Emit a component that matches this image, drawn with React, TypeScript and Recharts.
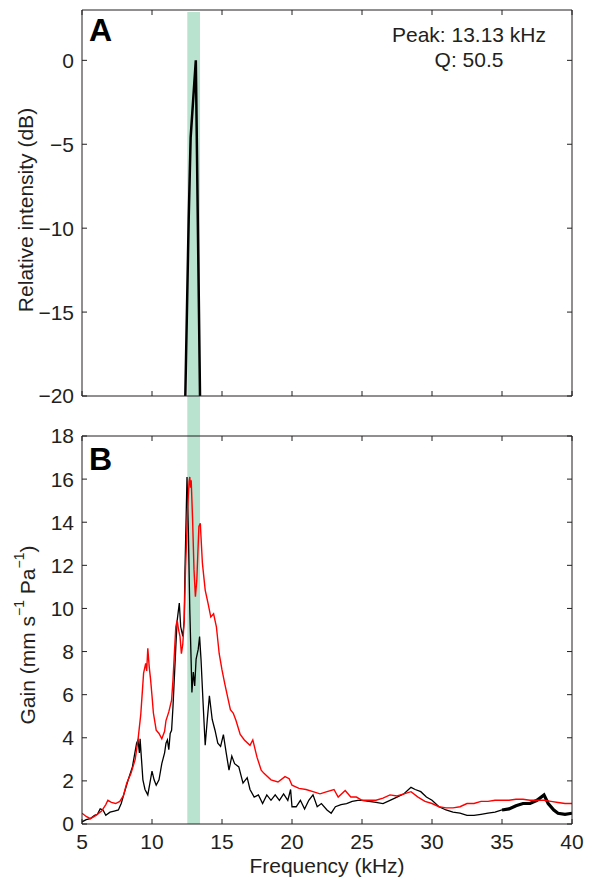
import React from 'react';
import { LineChart, Line, XAxis, YAxis, ReferenceArea } from 'recharts';

// axis ticks
const freqTicks = [5, 10, 15, 20, 25, 30, 35, 40];
const dbTicks = [-20, -15, -10, -5, 0];
const gainTicks = [0, 2, 4, 6, 8, 10, 12, 14, 16, 18];

// highlighted band (kHz)
const bandStart = 12.52;
const bandEnd = 13.43;

// panel A: relative intensity of the call
const peakFreq = [12.38, 12.62, 12.76, 13.13, 13.43];
const peakDb = [-20, -9.5, -4.6, 0, -20];

// panel B: red trace
const redFreq = [
  5.0, 5.3, 5.6, 6.0, 6.4, 6.7, 6.85, 7.1, 7.4, 7.7, 7.95, 8.2, 8.5, 8.8, 9.0, 9.2, 9.4, 9.55, 9.62, 9.7,
  9.8, 9.9, 10.0, 10.1, 10.3, 10.5, 10.7, 10.9, 11.0, 11.2, 11.4, 11.5, 11.7, 11.8, 11.9, 12.0, 12.1, 12.2,
  12.3, 12.4, 12.55, 12.65, 12.7, 12.75, 12.8, 12.9, 13.0, 13.1, 13.2, 13.35, 13.45, 13.6, 13.8, 14.0, 14.2,
  14.4, 14.6, 14.8, 15.0, 15.2, 15.4, 15.6, 15.8, 16.0, 16.3, 16.6, 17.0, 17.2, 17.5, 17.8, 18.0, 18.5, 19.0,
  19.5, 19.8, 20.0, 20.5, 21.0, 21.5, 22.0, 22.5, 23.0, 23.3, 23.8, 24.2, 24.6, 25.0, 25.5, 26.0, 26.5, 27.0,
  27.5, 28.0, 28.5, 29.0, 29.5, 30.0, 30.5, 31.0, 31.5, 32.0, 32.5, 33.0, 33.5, 34.0, 34.5, 35.0, 35.5, 36.0,
  36.5, 37.0, 37.5, 38.0, 38.5, 39.0, 39.5, 40.0,
];
const redGain = [
  0.5, 0.35, 0.25, 0.4, 0.6, 0.9, 1.1, 1.0, 0.95, 1.05, 1.3, 1.9, 2.35, 3.0, 3.9, 5.1, 7.0, 7.45, 7.1, 8.15,
  7.3, 6.7, 5.95, 5.15, 4.35, 4.2, 3.95, 4.3, 4.8, 5.2, 5.75, 6.7, 9.15, 9.45, 9.0, 8.7, 7.9, 8.35,
  9.45, 11.9, 14.7, 15.9, 16.1, 15.6, 15.95, 14.1, 11.8, 10.55, 11.3, 13.8, 13.95, 12.1, 10.85, 10.25, 9.6,
  9.75, 9.15, 7.9, 7.15, 6.5, 5.9, 5.3, 5.15, 4.8, 4.15, 3.9, 3.65, 3.9, 3.1, 2.5, 2.35, 2.05, 1.95,
  2.2, 2.1, 1.8, 1.65, 1.6, 1.5, 1.4, 1.5, 1.6, 1.25, 1.55, 1.25, 1.25, 1.1, 1.1, 1.1, 1.2, 1.35,
  1.3, 1.4, 1.5, 1.25, 1.05, 0.95, 0.8, 0.75, 0.75, 0.8, 0.95, 0.95, 1.05, 1.05, 1.1, 1.1, 1.1, 1.15,
  1.15, 1.1, 1.1, 1.1, 1.05, 1.0, 0.95, 0.95,
];

// panel B: black trace
const blackFreq = [
  5.0, 5.3, 5.6, 5.9, 6.1, 6.3, 6.5, 6.7, 7.0, 7.3, 7.6, 7.8, 8.0, 8.3, 8.6, 8.9, 9.0, 9.1, 9.15, 9.25,
  9.35, 9.5, 9.7, 9.85, 10.0, 10.15, 10.3, 10.5, 10.7, 10.9, 11.0, 11.1, 11.2, 11.3, 11.4, 11.5, 11.7, 11.8,
  11.95, 12.05, 12.2, 12.3, 12.35, 12.5, 12.6, 12.7, 12.8, 12.85, 12.95, 13.05, 13.15, 13.3, 13.4, 13.5,
  13.65, 13.8, 13.95, 14.1, 14.3, 14.5, 14.7, 14.9, 15.1, 15.3, 15.5, 15.7, 15.9, 16.2, 16.5, 16.8, 17.0,
  17.3, 17.6, 17.9, 18.2, 18.5, 18.8, 19.1, 19.4, 19.7, 19.9, 20.0, 20.3, 20.6, 20.9, 21.2, 21.5, 21.8, 22.1,
  22.5, 22.8, 23.1, 23.5, 23.9, 24.3, 24.7, 25.0, 25.5, 26.0, 26.5, 27.0, 27.5, 28.0, 28.5, 28.8, 29.2, 29.6,
  30.0, 30.5, 31.0, 31.5, 32.0, 32.5, 33.0, 33.5, 34.0, 34.5, 35.0,
];
const blackGain = [
  0.1, 0.2, 0.25, 0.4, 0.45, 0.7, 0.65, 0.4, 0.55, 0.6, 0.65, 0.95, 1.4, 2.05, 2.65, 3.75, 3.9, 3.3, 3.95, 3.0,
  2.05, 1.6, 1.35, 1.9, 2.45, 2.05, 1.8, 2.05, 2.8, 3.3, 3.75, 3.9, 3.45, 4.2, 4.35, 5.45, 8.2, 9.45,
  10.25, 9.15, 8.7, 9.45, 11.6, 16.1, 13.5, 9.95, 7.45, 6.1, 7.05, 6.4, 7.65, 8.1, 8.7, 7.65,
  5.6, 3.65, 4.85, 5.95, 4.85, 4.35, 3.75, 3.6, 4.15, 3.3, 2.5, 3.15, 2.8, 2.65, 1.9, 2.15, 1.6,
  1.25, 1.35, 0.95, 1.35, 1.1, 1.35, 1.1, 1.4, 1.1, 1.6, 0.8, 0.8, 1.1, 0.7, 1.1, 1.35, 0.8, 0.95,
  0.65, 0.5, 0.8, 0.9, 0.95, 1.05, 1.1, 1.1, 1.05, 1.0, 0.95, 1.1, 1.25, 1.4, 1.7, 1.6, 1.5, 1.25,
  1.1, 0.8, 0.65, 0.55, 0.5, 0.4, 0.4, 0.45, 0.5, 0.55, 0.65,
];

// noisy high-frequency end of the black trace (drawn heavier)
const tailFreq = [35.0, 35.5, 36.0, 36.5, 37.0, 37.5, 38.0, 38.3, 38.7, 39.0, 39.5, 40.0];
const tailGain = [0.65, 0.7, 0.85, 0.95, 0.95, 1.1, 1.35, 0.95, 0.65, 0.5, 0.45, 0.5];

const zip = (xs: number[], ys: number[]) => xs.map((f, i) => ({ f, v: ys[i] }));

const peakData = zip(peakFreq, peakDb);
const redData = zip(redFreq, redGain);
const blackData = zip(blackFreq, blackGain);
const tailData = zip(tailFreq, tailGain);

const FONT = '"Liberation Sans", Arial, Helvetica, sans-serif';
const INK = '#231f20';
const BAND = '#b9e3cf';
const tickStyle = { fontSize: 21, fill: INK, fontFamily: FONT };
const blank = () => '';
const minus = (v: number) => (v < 0 ? `\u2212${-v}` : `${v}`);

const intensityTitle = () => (
  <text
    x={25}
    y={210}
    transform="rotate(-90 25 210)"
    textAnchor="middle"
    dominantBaseline="central"
    fontSize={21}
    fontFamily={FONT}
    fill={INK}
  >
    Relative intensity (dB)
  </text>
);

// chart B svg starts 400px down the page
const gainTitle = () => (
  <text
    x={27}
    y={235}
    transform="rotate(-90 27 235)"
    textAnchor="middle"
    dominantBaseline="central"
    fontSize={21}
    fontFamily={FONT}
    fill={INK}
  >
    Gain (mm s
    <tspan dy={-8} fontSize={14}>
      {'\u22121'}
    </tspan>
    <tspan dy={8}> Pa</tspan>
    <tspan dy={-8} fontSize={14}>
      {'\u22121'}
    </tspan>
    <tspan dy={8}>)</tspan>
  </text>
);

// top and right axes close the box, ticks only
const frameAxes = (yDomain: number[], yTicks: number[]) => [
  <XAxis
    key="top"
    xAxisId="top"
    orientation="top"
    type="number"
    dataKey="f"
    domain={[5, 40]}
    ticks={freqTicks}
    height={1}
    tickSize={-5}
    tickFormatter={blank}
    stroke={INK}
    allowDataOverflow
  />,
  <YAxis
    key="right"
    yAxisId="right"
    orientation="right"
    type="number"
    domain={yDomain}
    ticks={yTicks}
    width={1}
    tickSize={-5}
    tickFormatter={blank}
    stroke={INK}
    allowDataOverflow
  />,
];

const IntensityPanel = () => (
  <LineChart width={590} height={436} margin={{ top: 9, right: 17, bottom: 0, left: 0 }}>
    <ReferenceArea x1={bandStart} x2={bandEnd} y1={-22.38} y2={2.88} fill={BAND} fillOpacity={1} stroke="none" ifOverflow="visible" />
    <XAxis
      type="number"
      dataKey="f"
      domain={[5, 40]}
      ticks={freqTicks}
      height={40}
      tickSize={-5}
      tickFormatter={blank}
      stroke={INK}
      allowDataOverflow
    />
    <YAxis
      type="number"
      domain={[-20, 3]}
      ticks={dbTicks}
      width={82}
      tickSize={-5}
      tickMargin={13}
      tickFormatter={minus}
      tick={tickStyle}
      stroke={INK}
      allowDataOverflow
      label={intensityTitle}
    />
    {frameAxes([-20, 3], dbTicks)}
    <Line data={peakData} dataKey="v" type="linear" stroke="#000" strokeWidth={2.5} dot={false} activeDot={false} isAnimationActive={false} />
  </LineChart>
);

const GainPanel = () => (
  <LineChart width={590} height={480} margin={{ top: 35, right: 17, bottom: 0, left: 0 }}>
    <ReferenceArea x1={bandStart} x2={bandEnd} y1={0} y2={18} fill={BAND} fillOpacity={1} stroke="none" ifOverflow="visible" />
    <XAxis
      type="number"
      dataKey="f"
      domain={[5, 40]}
      ticks={freqTicks}
      height={56}
      tickSize={-5}
      tickMargin={15}
      tick={tickStyle}
      stroke={INK}
      allowDataOverflow
      label={{ value: 'Frequency (kHz)', position: 'insideBottom', offset: 7, fontSize: 21, fill: INK, fontFamily: FONT }}
    />
    <YAxis
      type="number"
      domain={[0, 18]}
      ticks={gainTicks}
      width={82}
      tickSize={-5}
      tickMargin={13}
      tick={tickStyle}
      stroke={INK}
      allowDataOverflow
      label={gainTitle}
    />
    {frameAxes([0, 18], gainTicks)}
    <Line data={blackData} dataKey="v" type="linear" stroke="#000" strokeWidth={1.3} dot={false} activeDot={false} isAnimationActive={false} />
    <Line data={tailData} dataKey="v" type="linear" stroke="#000" strokeWidth={3.2} dot={false} activeDot={false} isAnimationActive={false} />
    <Line data={redData} dataKey="v" type="linear" stroke="#ff0000" strokeWidth={1.4} dot={false} activeDot={false} isAnimationActive={false} />
  </LineChart>
);

const panelLetter: React.CSSProperties = {
  position: 'absolute',
  fontSize: 32,
  fontWeight: 'bold',
  lineHeight: '32px',
  color: '#000',
};

export default function App() {
  return (
    <div style={{ position: 'absolute', left: 0, top: 0, width: 590, height: 880, background: '#fff', fontFamily: FONT }}>
      <div style={{ position: 'absolute', left: 0, top: 0 }}>
        <IntensityPanel />
      </div>
      <div style={{ position: 'absolute', left: 0, top: 400 }}>
        <GainPanel />
      </div>
      <div style={{ ...panelLetter, left: 89, top: 14 }}>A</div>
      <div style={{ ...panelLetter, left: 89, top: 443 }}>B</div>
      <div
        style={{
          position: 'absolute',
          left: 369,
          top: 22,
          width: 200,
          textAlign: 'center',
          fontSize: 21,
          lineHeight: '25px',
          color: INK,
        }}
      >
        <div>Peak: 13.13 kHz</div>
        <div>Q: 50.5</div>
      </div>
    </div>
  );
}
